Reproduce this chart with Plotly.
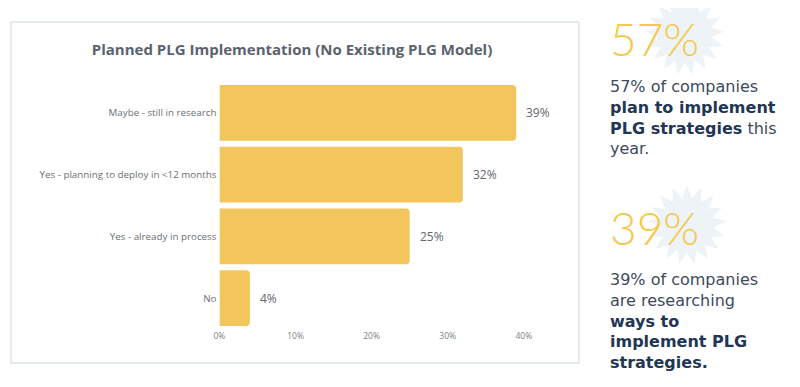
import numpy as np
import plotly.graph_objects as go

categories = ["Maybe - still in research", "Yes - planning to deploy in <12 months",
              "Yes - already in process", "No"]
values = [39, 32, 25, 4]
tick_vals = [0, 10, 20, 30, 40]
tick_text = ["0%", "10%", "20%", "30%", "40%"]
title_text = "Planned PLG Implementation (No Existing PLG Model)"
stat1_big = "57%"
stat1_lines = ["57% of companies", "<b>plan to implement</b>",
               "<b>PLG strategies</b> this", "year."]
stat2_big = "39%"
stat2_lines = ["39% of companies", "are researching", "<b>ways to</b>",
               "<b>implement PLG</b>", "<b>strategies.</b>"]

W, H = 800, 387
OFF = 8  # page body margin in the browser
FONT = "Open Sans"
BAR = "#f3c55d"
BOLD_C = "#1f3654"


def px(x):
    return (x - OFF) / W


def py(y):
    return 1 - (y - OFF) / H


def colour_bold(s):
    return s.replace("<b>", f"<span style='color:{BOLD_C}'><b>").replace("</b>", "</b></span>")


fig = go.Figure()
fig.add_trace(go.Bar(
    x=values, y=categories, orientation="h",
    marker=dict(color=BAR, line=dict(width=0), cornerradius=4),
    hoverinfo="skip",
))

for c, v in zip(categories, values):
    fig.add_annotation(x=v, y=c, xref="x", yref="y", text=f"{v}%",
                       showarrow=False, xanchor="left", xshift=8,
                       font=dict(family=FONT, size=12, color="#5f6670"))


def star(cx, cy, r_out, r_in, n):
    ang = np.linspace(0, 2 * np.pi, 2 * n, endpoint=False) - np.pi / 2
    rr = np.where(np.arange(2 * n) % 2 == 0, r_out, r_in)
    xs = cx + rr * np.cos(ang)
    ys = cy + rr * np.sin(ang)
    pts = [f"{px(a):.5f},{py(b):.5f}" for a, b in zip(xs, ys)]
    return "M " + " L ".join(pts) + " Z"


shapes = [
    dict(type="rect", xref="paper", yref="paper", x0=px(5), x1=px(577),
         y0=py(363), y1=py(22), line=dict(color="#dde3e7", width=1.5),
         fillcolor="rgba(0,0,0,0)", layer="below"),
    dict(type="path", xref="paper", yref="paper", path=star(684, 35, 40, 27, 17),
         fillcolor="#edf3f7", line=dict(width=0), layer="below"),
    dict(type="path", xref="paper", yref="paper", path=star(686, 225, 40, 27, 17),
         fillcolor="#edf3f7", line=dict(width=0), layer="below"),
]

BIG = dict(family="Lato", size=46, color="#f5c84c", weight=300)
fig.add_annotation(xref="paper", yref="paper", x=px(606), y=py(38), text=stat1_big,
                   showarrow=False, xanchor="left", yanchor="middle", font=BIG)
fig.add_annotation(xref="paper", yref="paper", x=px(606), y=py(227), text=stat2_big,
                   showarrow=False, xanchor="left", yanchor="middle", font=BIG)

TXT = dict(family="DejaVu Sans", size=16, color="#3d4a5e")
fig.add_annotation(xref="paper", yref="paper", x=px(606), y=py(75),
                   text="<br>".join(colour_bold(s) for s in stat1_lines), align="left",
                   showarrow=False, xanchor="left", yanchor="top", font=TXT)
fig.add_annotation(xref="paper", yref="paper", x=px(606), y=py(268),
                   text="<br>".join(colour_bold(s) for s in stat2_lines), align="left",
                   showarrow=False, xanchor="left", yanchor="top", font=TXT)

fig.update_layout(
    width=W, height=H,
    margin=dict(l=0, r=0, t=0, b=0),
    paper_bgcolor="white", plot_bgcolor="white",
    showlegend=False,
    bargap=0.1,
    shapes=shapes,
    title=dict(text=f"<b>{title_text}</b>", x=px(292), y=py(50),
               xanchor="center", yanchor="middle",
               font=dict(family=FONT, size=15, color="#5b636d")),
    xaxis=dict(domain=[px(215), px(537)], range=[0, 42],
               tickvals=tick_vals, ticktext=tick_text,
               showgrid=False, zeroline=False, showline=False, ticks="",
               tickfont=dict(family=FONT, size=8.5, color="#7a7f85"),
               fixedrange=True),
    yaxis=dict(domain=[py(329), py(82)], autorange="reversed",
               showgrid=False, zeroline=False, showline=False, ticks="",
               ticklabelstandoff=2,
               tickfont=dict(family=FONT, size=9.8, color="#6a6f75"),
               fixedrange=True),
)

fig.write_html("out.html")
